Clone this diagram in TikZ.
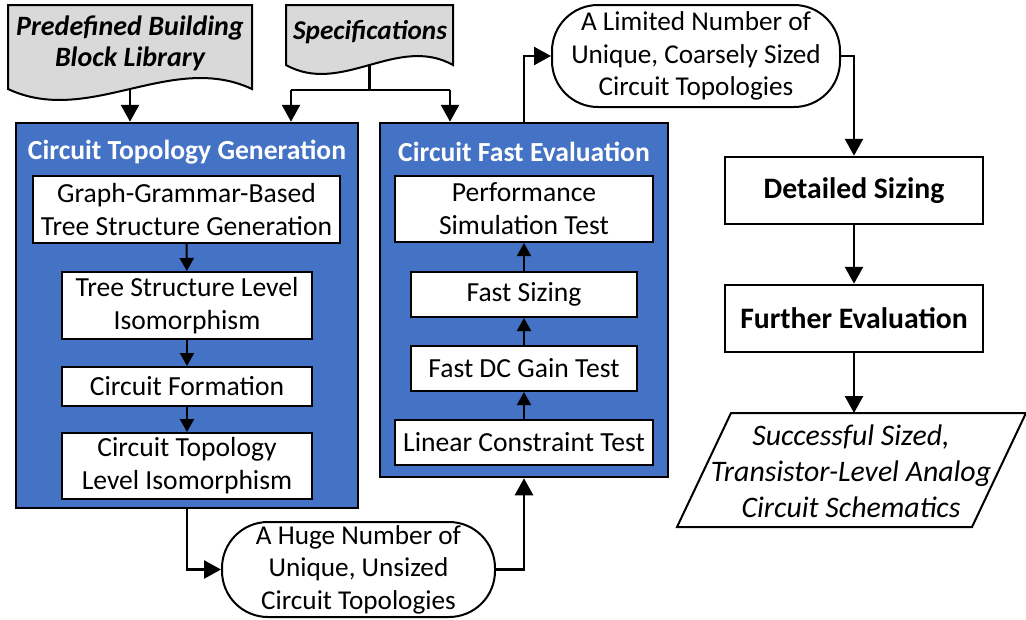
\documentclass[tikz,border=0pt]{standalone}
\usepackage{fontspec}
\setmainfont{Carlito}
\usetikzlibrary{arrows.meta,calc}
\definecolor{blueF}{HTML}{4472C4}
\definecolor{docF}{HTML}{D9D9D9}
\begin{document}
\begin{tikzpicture}[x=1pt,y=-1pt,
  txt/.style={font=\fontsize{27.6}{33}\selectfont, align=center, inner sep=0pt},
  bigbox/.style={draw=black, line width=2.5pt, fill=blueF, inner sep=0pt},
  inbox/.style={draw=black, line width=2pt, fill=white, txt},
  outbox/.style={draw=black, line width=2.5pt, fill=white, txt, font=\fontsize{29.7}{33}\selectfont\bfseries},
  title/.style={txt, text=white, font=\fontsize{27.6}{33}\selectfont\bfseries},
  term/.style={draw=black, line width=2pt, fill=white, rounded corners=46pt, txt, font=\fontsize{27.2}{32.5}\selectfont},
  docshape/.style={draw=black, line width=2pt, fill=docF},
  arr/.style={line width=2.5pt, -{Triangle[length=17pt,width=18pt]}},
  iarr/.style={line width=2pt, -{Triangle[length=13pt,width=14pt]}}
]
\useasboundingbox (0,0) rectangle (1026,619);

% document shapes
\draw[docshape] (8,5) -- (252,5) -- (252,89) .. controls (171,51) and (89,127) .. (8,89) -- cycle;
\node[txt, font=\fontsize{28}{31}\selectfont\bfseries\itshape] (B) at (130,43) {Predefined Building\\Block Library};
\coordinate (Bb) at (130,89);

\draw[docshape] (286,5) -- (453,5) -- (453,65) .. controls (397.3,34) and (341.7,96) .. (286,65) -- cycle;
\node[txt, font=\fontsize{27.2}{33}\selectfont\bfseries\itshape] (S) at (370,32) {Specifications};
\coordinate (Sb) at (369.5,65);
\coordinate (Sj) at (369.5,90);
\coordinate (SL) at (291,90);
\coordinate (SR) at (450,90);

% left blue box
\node[bigbox, minimum width=342pt, minimum height=385pt] (L) at (187,315.5) {};
\node[title] (LT) at (187,152) {Circuit Topology Generation};
\node[inbox, minimum width=307pt, minimum height=67pt] (G1) at (186.5,209.5) {Graph-Grammar-Based\\Tree Structure Generation};
\node[inbox, minimum width=250pt, minimum height=67pt] (G2) at (187,305.5) {Tree Structure Level\\Isomorphism};
\node[inbox, minimum width=250pt, minimum height=39pt] (G3) at (187,386.5) {Circuit Formation};
\node[inbox, minimum width=250pt, minimum height=66pt] (G4) at (187,466) {Circuit Topology\\Level Isomorphism};

% right blue box
\node[bigbox, minimum width=288pt, minimum height=354pt] (R) at (524,300) {};
\node[title] (RT) at (524,152) {Circuit Fast Evaluation};
\node[inbox, minimum width=258pt, minimum height=66pt] (E1) at (524,209) {Performance\\Simulation Test};
\node[inbox, minimum width=226pt, minimum height=45pt] (E2) at (524,294.5) {Fast Sizing};
\node[inbox, minimum width=226pt, minimum height=45pt] (E3) at (524,368.5) {Fast DC Gain Test};
\node[inbox, minimum width=258pt, minimum height=45pt] (E4) at (524,442.5) {Linear Constraint Test};

% terminals
\node[term, minimum width=273pt, minimum height=95pt] (H) at (358.5,569.5) {A Huge Number of\\Unique, Unsized\\Circuit Topologies};
\node[term, minimum width=288pt, minimum height=102pt] (T) at (696,56) {A Limited Number of\\Unique, Coarsely Sized\\Circuit Topologies};

% right column
\node[outbox, minimum width=258pt, minimum height=67pt] (D) at (854,190.5) {Detailed Sizing};
\node[outbox, minimum width=258pt, minimum height=67pt] (F) at (854,318.5) {Further Evaluation};
\draw[draw=black, line width=2pt, fill=white] (731,413) -- (1026,413) -- (972,527) -- (677,527) -- cycle;
\node[txt, font=\fontsize{29.8}{36}\selectfont\itshape] (P) at (851,471) {Successful Sized,\\Transistor-Level Analog\\Circuit Schematics};
\coordinate (Ptop) at (854,413);

% connectors
\draw[arr] (Bb) -- (Bb |- L.north);
\draw[line width=2.5pt] (Sb) -- (Sj);
\draw[line width=2.5pt] (SL) -- (SR);
\draw[arr] (SL) -- (SL |- L.north);
\draw[arr] (SR) -- (SR |- R.north);

\draw[iarr] (G1) -- (G2);
\draw[iarr] (G2) -- (G3);
\draw[iarr] (G3) -- (G4);

\draw[iarr] (E4) -- (E3);
\draw[iarr] (E3) -- (E2);
\draw[iarr] (E2) -- (E1);

\draw[arr] (L.south) |- (H.west);
\draw[arr] (H.east) -| (R.south);
\draw[arr] (R.north) |- (T.west);
\draw[arr] (T.east) -| (D.north);
\draw[arr] (D) -- (F);
\draw[arr] (F) -- (Ptop);
\end{tikzpicture}
\end{document}
